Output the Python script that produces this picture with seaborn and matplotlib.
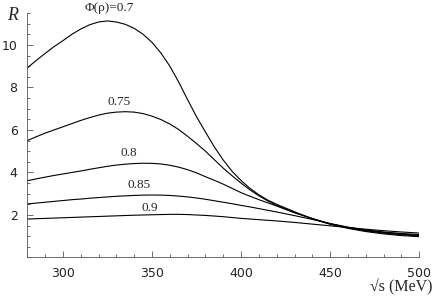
import numpy as np
import pandas as pd
import matplotlib
matplotlib.use('Agg')
import matplotlib.pyplot as plt
import seaborn as sns
from matplotlib.ticker import FixedLocator, MultipleLocator

# data
sqrt_s = [280, 285, 290, 295, 300, 305, 310, 315, 320, 325, 330, 335, 340, 345,
          350, 355, 360, 365, 370, 375, 380, 385, 390, 395, 400, 405, 410, 415,
          420, 430, 440, 450, 460, 470, 480, 490, 500]
R_070 = [8.92, 9.27, 9.6, 9.92, 10.2, 10.5, 10.75, 10.95, 11.08, 11.13, 11.08,
         10.97, 10.78, 10.5, 10.12, 9.62, 9.0, 8.25, 7.42, 6.62, 5.9, 5.2, 4.58,
         4.05, 3.62, 3.25, 2.95, 2.7, 2.5, 2.15, 1.82, 1.56, 1.37, 1.22, 1.11,
         1.03, 0.98]
R_075 = [5.5, 5.68, 5.85, 6.0, 6.15, 6.3, 6.45, 6.58, 6.7, 6.79, 6.84, 6.86,
         6.84, 6.77, 6.65, 6.49, 6.28, 6.02, 5.7, 5.36, 5.0, 4.6, 4.2, 3.84, 3.5,
         3.18, 2.9, 2.66, 2.45, 2.12, 1.83, 1.58, 1.39, 1.25, 1.15, 1.07, 1.01]
R_080 = [3.61, 3.7, 3.78, 3.86, 3.93, 4.0, 4.07, 4.15, 4.22, 4.29, 4.35, 4.39,
         4.42, 4.435, 4.43, 4.4, 4.34, 4.25, 4.13, 3.98, 3.8, 3.63, 3.45, 3.25,
         3.05, 2.88, 2.72, 2.57, 2.42, 2.1, 1.83, 1.58, 1.41, 1.28, 1.18, 1.1,
         1.04]
R_085 = [2.52, 2.56, 2.6, 2.64, 2.68, 2.72, 2.75, 2.79, 2.82, 2.85, 2.88, 2.9,
         2.92, 2.935, 2.94, 2.935, 2.92, 2.89, 2.85, 2.8, 2.74, 2.67, 2.6, 2.53,
         2.45, 2.38, 2.3, 2.22, 2.14, 1.97, 1.79, 1.6, 1.43, 1.3, 1.2, 1.13, 1.08]
R_090 = [1.81, 1.825, 1.84, 1.855, 1.87, 1.885, 1.9, 1.915, 1.93, 1.945, 1.96,
         1.975, 1.99, 2.0, 2.01, 2.02, 2.03, 2.03, 2.02, 2.0, 1.98, 1.95, 1.92,
         1.88, 1.84, 1.81, 1.78, 1.75, 1.72, 1.65, 1.57, 1.49, 1.41, 1.33, 1.26,
         1.2, 1.15]

phi_values = [0.7, 0.75, 0.8, 0.85, 0.9]
curve_labels = ['\u03a6(\u03c1)=0.7', '0.75', '0.8', '0.85', '0.9']
label_x = [326, 331.5, 337, 343, 348.5]
label_y = [11.74, 7.32, 4.92, 3.41, 2.33]

curves = [R_070, R_075, R_080, R_085, R_090]
frames = []
for phi, vals in zip(phi_values, curves):
    frames.append(pd.DataFrame({'sqrt_s': sqrt_s, 'R': vals, 'phi': phi}))
df = pd.concat(frames, ignore_index=True)

sns.set_style('white')
fig = plt.figure(figsize=(4.36, 2.97), dpi=100)
ax = fig.add_axes([0.0626, 0.133, 0.8991, 0.823])

sns.lineplot(data=df, x='sqrt_s', y='R', hue='phi', palette=['black'] * 5,
             linewidth=0.8, legend=False, ax=ax)

ax.set_xlim(280, 500)
ax.set_ylim(0, 11.5)
ax.xaxis.set_major_locator(FixedLocator([300, 350, 400, 450, 500]))
ax.xaxis.set_minor_locator(MultipleLocator(10))
ax.yaxis.set_major_locator(FixedLocator([2, 4, 6, 8, 10]))
ax.yaxis.set_minor_locator(MultipleLocator(0.5))
ax.tick_params(which='both', direction='in', color='#555555', width=0.6,
               labelsize=9, labelcolor='#222222', pad=7,
               bottom=True, left=True)
ax.tick_params(which='major', length=4)
ax.tick_params(which='minor', length=2)
for lab in ax.get_xticklabels() + ax.get_yticklabels():
    lab.set_fontfamily('DejaVu Sans')

sns.despine(ax=ax)
for side in ['left', 'bottom']:
    ax.spines[side].set_linewidth(0.6)
    ax.spines[side].set_color('#555555')

ax.set_xlabel('')
ax.set_ylabel('')

for txt, lx, ly in zip(curve_labels, label_x, label_y):
    ax.text(lx, ly, txt, ha='center', va='center', fontsize=9.5,
            family='Liberation Serif', clip_on=False)

fig.text(13 / 436, 1 - 15 / 297, 'R', ha='center', va='center', fontsize=13,
         family='Liberation Serif', style='italic')
fig.text(401 / 436, 1 - 287 / 297, '\u221as (MeV)', ha='center', va='center',
         fontsize=11.5, family='Liberation Serif')

fig.savefig('out.png', dpi=100)
